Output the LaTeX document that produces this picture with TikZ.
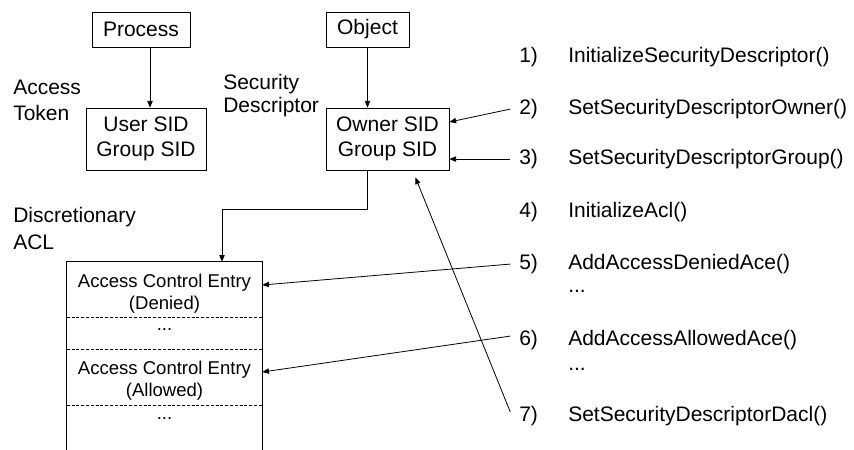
\documentclass[tikz,border=0pt]{standalone}
\usepackage{fontspec}
\setmainfont{Liberation Sans}
\usetikzlibrary{arrows.meta}
\begin{document}
\begin{tikzpicture}[x=0.75pt,y=-0.75pt,
  box/.style={draw, line width=0.6pt, inner sep=0pt, align=center, font=\fontsize{15.75pt}{18.75pt}\selectfont},
  lbl/.style={inner sep=0pt, anchor=west, align=left},
  fn/.style={inner sep=0pt, anchor=base west, font=\fontsize{15.75pt}{19pt}\selectfont},
  ace/.style={inner sep=0pt, align=center, font=\fontsize{13.9pt}{16.5pt}\selectfont},
  acedots/.style={inner sep=0pt, anchor=base, font=\fontsize{13.9pt}{16.5pt}\selectfont},
  arr/.style={line width=0.6pt, -{Triangle[length=5pt,width=4pt]}},
  wire/.style={line width=0.6pt},
  sep/.style={line width=0.6pt, dash pattern=on 2.3pt off 1.3pt}]
\useasboundingbox (0,0) rectangle (854,450);

% boxes
\node[box, minimum width=73.5pt, minimum height=26.25pt] (process) at (141,29.5) {Process};
\node[box, minimum width=62.25pt, minimum height=26.25pt] (object) at (367.5,29.5) {Object};
\node[box, minimum width=90pt, minimum height=46.5pt] (usersid) at (146,139) {User SID\\Group SID};
\node[box, minimum width=92.25pt, minimum height=46.5pt] (ownersid) at (387.5,139) {Owner SID\\Group SID};

% side labels
\node[lbl, font=\fontsize{15.75pt}{19.5pt}\selectfont] (tok) at (13,100) {Access\\Token};
\node[lbl, font=\fontsize{15.75pt}{17.25pt}\selectfont] (sd) at (223,95.5) {Security\\Descriptor};
\node[lbl, font=\fontsize{15.75pt}{20.25pt}\selectfont] (dacl) at (13,228.5) {Discretionary\\ACL};

% ACL box (open at bottom)
\node[inner sep=0pt, minimum width=146.25pt, minimum height=141pt] (acl) at (164.5,356) {};
\draw[wire] (acl.south west) -- (acl.north west) -- (acl.north east) -- (acl.south east);
\draw[sep] (acl.west |- 0,317) -- (acl.east |- 0,317);
\draw[sep] (acl.west |- 0,349) -- (acl.east |- 0,349);
\draw[sep] (acl.west |- 0,405) -- (acl.east |- 0,405);
\node[ace] (ace1) at (164.5,294) {Access Control Entry\\(Denied)};
\node[acedots] (dd1) at (164.5,330) {...};
\node[ace] (ace2) at (164.5,381) {Access Control Entry\\(Allowed)};
\node[acedots] (dd2) at (164.5,419) {...};

% right column
\node[fn] (n1) at (519,62.5) {1)};
\node[fn] (f1) at (568,62.5) {InitializeSecurityDescriptor()};
\node[fn] (n2) at (519,114.5) {2)};
\node[fn] (f2) at (568,114.5) {SetSecurityDescriptorOwner()};
\node[fn] (n3) at (519,164.5) {3)};
\node[fn] (f3) at (568,164.5) {SetSecurityDescriptorGroup()};
\node[fn] (n4) at (519,217.5) {4)};
\node[fn] (f4) at (568,217.5) {InitializeAcl()};
\node[fn] (n5) at (519,269.5) {5)};
\node[fn] (f5) at (568,269.5) {AddAccessDeniedAce()};
\node[fn] (d5) at (568,292) {...};
\node[fn] (n6) at (519,345.5) {6)};
\node[fn] (f6) at (568,345.5) {AddAccessAllowedAce()};
\node[fn] (d6) at (568,370) {...};
\node[fn] (n7) at (519,421.5) {7)};
\node[fn] (f7) at (568,421.5) {SetSecurityDescriptorDacl()};

% connectors
\coordinate (bend) at (222,209);
\draw[arr] ([xshift=6.75pt]process.south) -- ([xshift=3pt]usersid.north);
\draw[arr] (object.south) -- (ownersid.north -| object.south);
\draw[arr] (ownersid.south -| object.south) |- (bend) -- (bend |- acl.north);
\draw[arr] ([xshift=-6.5pt]n2.west) -- ([yshift=12.75pt]ownersid.east);
\draw[arr] ([xshift=-6.5pt]n3.west) -- (ownersid.east |- n3.west);
\draw[arr] ([xshift=-6.5pt]n5.west) -- ([yshift=53.25pt]acl.east);
\draw[arr] ([xshift=-6.5pt,yshift=3pt]n6.west) -- ([yshift=-12pt]acl.east);
\draw[arr] ([xshift=-6.5pt,yshift=3pt]n7.west) -- ([xshift=-25.5pt,yshift=-5.25pt]ownersid.south east);
\end{tikzpicture}
\end{document}
